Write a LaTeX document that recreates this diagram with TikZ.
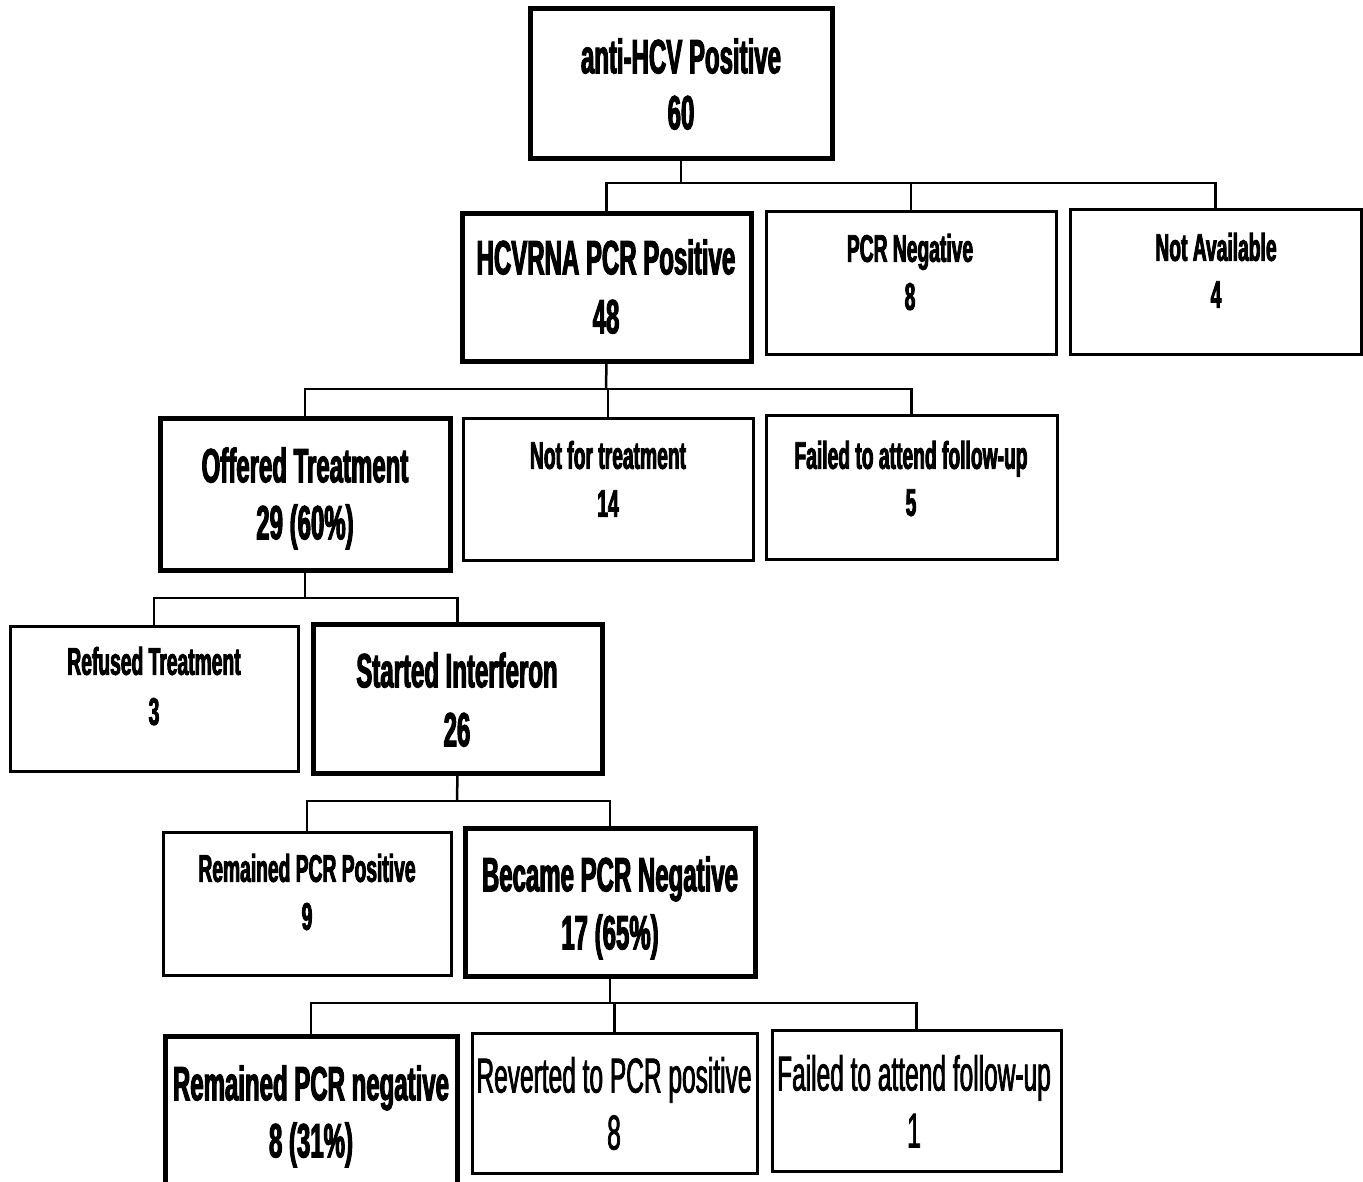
\documentclass[tikz,border=0pt]{standalone}
\usepackage{fontspec}
\setmainfont{Liberation Sans}[FakeStretch=0.5, BoldFeatures={FakeBold=2.2}]
\newfontfamily\medfont{Liberation Sans}[FakeStretch=0.5, FakeBold=1.5]
\begin{document}
\begin{tikzpicture}[x=1pt,y=-1pt,
  thickbox/.style={draw=black, line width=5pt, inner sep=0pt, outer sep=0pt, fill=white},
  thinbox/.style={draw=black, line width=3pt, inner sep=0pt, outer sep=0pt, fill=white},
  bigt/.style={font=\fontsize{48}{48}\selectfont\bfseries, inner sep=0pt, text height=34.5pt, text depth=0pt},
  smallt/.style={font=\fontsize{38.5}{38.5}\selectfont\bfseries, inner sep=0pt, text height=27.6pt, text depth=0pt},
  regt/.style={font=\medfont\fontsize{49}{49}\selectfont, inner sep=0pt, text height=35pt, text depth=0pt},
  conn/.style={draw=black, line width=2.5pt}]
\useasboundingbox (0,0) rectangle (1363,1181);
\fill[white] (0,0) rectangle (1363,1181);

% boxes
\node[thickbox, minimum width=302pt, minimum height=150pt] (anti) at (681,83) {};
\node[thickbox, minimum width=289pt, minimum height=148pt] (hcv) at (606.5,287) {};
\node[thinbox, minimum width=290pt, minimum height=143pt] (pcrneg) at (911,282.5) {};
\node[thinbox, minimum width=291pt, minimum height=145pt] (na) at (1215.5,281.5) {};
\node[thickbox, minimum width=290pt, minimum height=152pt] (off) at (305,494) {};
\node[thinbox, minimum width=290pt, minimum height=142pt] (notfor) at (608,489) {};
\node[thinbox, minimum width=291pt, minimum height=144pt] (failA) at (911.5,487) {};
\node[thinbox, minimum width=288pt, minimum height=145pt] (ref) at (154,698.5) {};
\node[thickbox, minimum width=289pt, minimum height=149pt] (start) at (457.5,698.5) {};
\node[thinbox, minimum width=288pt, minimum height=143pt] (rempos) at (307,903.5) {};
\node[thickbox, minimum width=290pt, minimum height=148pt] (became) at (610,902) {};
\node[thickbox, minimum width=292pt, minimum height=149pt] (remneg) at (311,1110.5) {};
\node[thinbox, minimum width=285pt, minimum height=140pt] (rev) at (614.5,1103) {};
\node[thinbox, minimum width=289pt, minimum height=141pt] (failB) at (916.5,1100.5) {};

% texts
\node[bigt] (anti1) at (681,56) {anti-HCV Positive};
\node[bigt] (anti2) at (681,112) {60};
\node[bigt] (hcv1) at (606,257) {HCVRNA PCR Positive};
\node[bigt] (hcv2) at (606,316) {48};
\node[smallt] (pcrneg1) at (910,248) {PCR Negative};
\node[smallt] (pcrneg2) at (910,296) {8};
\node[smallt] (na1) at (1216,247) {Not Available};
\node[smallt] (na2) at (1216,294) {4};
\node[bigt] (off1) at (305,465) {Offered Treatment};
\node[bigt] (off2) at (305,522) {29 (60\%)};
\node[smallt] (notfor1) at (608,455) {Not for treatment};
\node[smallt] (notfor2) at (608,503) {14};
\node[smallt] (failA1) at (911,455) {Failed to attend follow-up};
\node[smallt] (failA2) at (911,502) {5};
\node[smallt] (ref1) at (154,661) {Refused Treatment};
\node[smallt] (ref2) at (154,711) {3};
\node[bigt] (start1) at (457,670) {Started Interferon};
\node[bigt] (start2) at (457,729) {26};
\node[smallt] (rempos1) at (307,868) {Remained PCR Positive};
\node[smallt] (rempos2) at (307,916) {9};
\node[bigt] (became1) at (610,874) {Became PCR Negative};
\node[bigt] (became2) at (610,932) {17 (65\%)};
\node[bigt] (remneg1) at (311,1083) {Remained PCR negative};
\node[bigt] (remneg2) at (311,1140) {8 (31\%)};
\node[regt] (rev1) at (614,1075) {Reverted to PCR positive};
\node[regt] (rev2) at (614,1132) {8};
\node[regt] (failB1) at (914,1073) {Failed to attend follow-up};
\node[regt] (failB2) at (914,1130) {1};

% connector bars
\coordinate (b1) at (681,183);
\coordinate (b2) at (606,389);
\coordinate (b3) at (305,598);
\coordinate (b4) at (457,801);
\coordinate (b5) at (610,1003);

\draw[conn] (anti.south) -- (b1);
\draw[conn] (hcv.north) -- (hcv.north |- b1) -- (na.north |- b1) -- (na.north);
\draw[conn] (pcrneg.north) -- (pcrneg.north |- b1);

\draw[conn] (hcv.south) -- (b2);
\draw[conn] (off.north) -- (off.north |- b2) -- (failA.north |- b2) -- (failA.north);
\draw[conn] (notfor.north) -- (notfor.north |- b2);

\draw[conn] (off.south) -- (b3);
\draw[conn] (ref.north) -- (ref.north |- b3) -- (start.north |- b3) -- (start.north);

\draw[conn] (start.south) -- (b4);
\draw[conn] (rempos.north) -- (rempos.north |- b4) -- (became.north |- b4) -- (became.north);

\draw[conn] (became.south) -- (b5);
\draw[conn] (remneg.north) -- (remneg.north |- b5) -- (failB.north |- b5) -- (failB.north);
\draw[conn] (rev.north) -- (rev.north |- b5);
\end{tikzpicture}
\end{document}
